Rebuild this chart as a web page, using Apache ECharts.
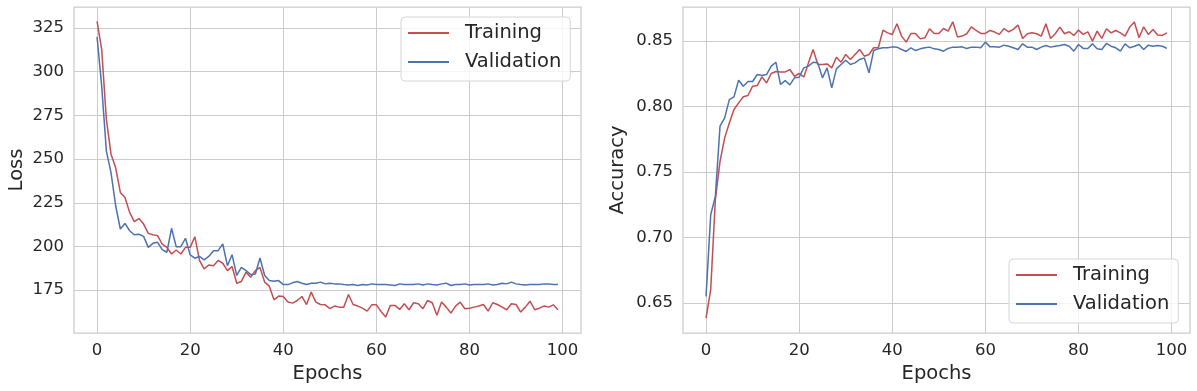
<!DOCTYPE html>
<html>
<head>
<meta charset="utf-8">
<script src="https://cdn.jsdelivr.net/npm/echarts@6/dist/echarts.min.js"></script>
<style>
  html, body { margin: 0; padding: 0; background: #fff; }
  #chart { width: 1197px; height: 391px; }
</style>
</head>
<body>
<div id="chart"></div>
<script>
// loss per epoch (left panel)
const trainLoss = [
  328.8, 312.6, 272.7, 252.8, 245.0, 230.9, 228.0, 219.5, 214.2, 216.0,
  212.8, 207.5, 206.7, 206.2, 201.4, 199.5, 195.7, 198.0, 195.7, 199.5,
  199.5, 205.6, 192.0, 187.2, 189.4, 189.0, 192.0, 190.4, 186.2, 188.5,
  179.0, 180.0, 185.3, 182.4, 186.2, 188.0, 179.6, 177.3, 169.5, 171.6,
  171.4, 168.2, 167.6, 169.1, 171.4, 166.8, 173.9, 168.2, 166.8, 166.6,
  164.4, 165.9, 165.3, 165.3, 172.5, 166.8, 165.9, 164.7, 163.0, 166.6,
  166.6, 162.8, 159.6, 166.3, 166.3, 164.0, 167.2, 163.8, 167.8, 167.2,
  164.4, 169.1, 167.8, 160.6, 168.2, 165.3, 161.9, 165.9, 168.2, 164.4,
  164.7, 165.3, 165.9, 166.8, 163.0, 167.8, 166.8, 165.3, 163.8, 167.2,
  166.8, 162.5, 165.3, 168.7, 163.8, 164.7, 165.9, 165.3, 166.6, 163.8
];
const valLoss = [
  319.9, 291.7, 254.7, 242.3, 223.3, 210.0, 213.2, 209.0, 206.7, 207.0,
  205.8, 199.5, 201.8, 202.4, 198.2, 196.7, 210.4, 199.9, 199.9, 204.7,
  195.2, 193.3, 194.3, 192.3, 194.3, 197.6, 197.6, 201.4, 189.0, 195.3,
  183.4, 188.1, 186.2, 183.9, 184.3, 193.4, 183.4, 180.5, 180.1, 180.5,
  178.2, 178.2, 179.2, 180.0, 179.0, 178.2, 179.0, 179.0, 179.6, 178.6,
  179.0, 178.6, 178.6, 178.2, 177.9, 178.2, 177.7, 178.2, 178.0, 178.6,
  178.2, 178.2, 178.2, 178.0, 177.7, 178.6, 178.2, 178.2, 178.2, 178.6,
  178.0, 178.6, 178.2, 178.0, 178.6, 179.0, 177.7, 178.2, 178.2, 178.6,
  178.0, 178.2, 178.2, 178.2, 178.6, 178.0, 178.2, 179.0, 178.6, 179.6,
  178.6, 178.2, 178.0, 178.2, 178.2, 178.2, 178.6, 178.6, 178.2, 178.2
];

// accuracy per epoch (right panel)
const trainAcc = [
  0.6385, 0.6602, 0.7289, 0.7581, 0.7760, 0.7874, 0.7976, 0.8027, 0.8073, 0.8083,
  0.8154, 0.8159, 0.8225, 0.8179, 0.8251, 0.8266, 0.8263, 0.8263, 0.8281, 0.8230,
  0.8251, 0.8225, 0.8332, 0.8434, 0.8319, 0.8319, 0.8324, 0.8294, 0.8375, 0.8337,
  0.8396, 0.8358, 0.8396, 0.8434, 0.8383, 0.8396, 0.8447, 0.8447, 0.8581, 0.8561,
  0.8548, 0.8630, 0.8536, 0.8490, 0.8556, 0.8556, 0.8515, 0.8523, 0.8592, 0.8556,
  0.8556, 0.8594, 0.8574, 0.8645, 0.8530, 0.8536, 0.8554, 0.8607, 0.8579, 0.8556,
  0.8556, 0.8579, 0.8567, 0.8549, 0.8594, 0.8569, 0.8587, 0.8620, 0.8518, 0.8554,
  0.8561, 0.8554, 0.8536, 0.8630, 0.8518, 0.8554, 0.8605, 0.8554, 0.8569, 0.8541,
  0.8582, 0.8549, 0.8569, 0.8498, 0.8574, 0.8518, 0.8592, 0.8561, 0.8579, 0.8561,
  0.8536, 0.8605, 0.8643, 0.8523, 0.8607, 0.8549, 0.8587, 0.8544, 0.8541, 0.8561
];
const valAcc = [
  0.6551, 0.7174, 0.7314, 0.7849, 0.7912, 0.8052, 0.8073, 0.8200, 0.8154, 0.8190,
  0.8190, 0.8243, 0.8235, 0.8243, 0.8307, 0.8337, 0.8167, 0.8197, 0.8164, 0.8218,
  0.8223, 0.8294, 0.8307, 0.8337, 0.8332, 0.8218, 0.8294, 0.8141, 0.8286, 0.8319,
  0.8352, 0.8319, 0.8332, 0.8358, 0.8370, 0.8256, 0.8426, 0.8439, 0.8447, 0.8447,
  0.8454, 0.8452, 0.8434, 0.8419, 0.8447, 0.8426, 0.8439, 0.8447, 0.8452, 0.8439,
  0.8434, 0.8421, 0.8442, 0.8452, 0.8452, 0.8454, 0.8442, 0.8452, 0.8452, 0.8447,
  0.8490, 0.8454, 0.8454, 0.8452, 0.8467, 0.8459, 0.8447, 0.8434, 0.8477, 0.8452,
  0.8452, 0.8434, 0.8452, 0.8465, 0.8452, 0.8459, 0.8465, 0.8472, 0.8459, 0.8421,
  0.8472, 0.8442, 0.8442, 0.8477, 0.8439, 0.8434, 0.8480, 0.8459, 0.8447, 0.8421,
  0.8477, 0.8447, 0.8459, 0.8472, 0.8434, 0.8467, 0.8459, 0.8465, 0.8459, 0.8442
];

const epochTicks = [0, 20, 40, 60, 80, 100];
const lossTicks = [175, 200, 225, 250, 275, 300, 325];
const accTicks = [0.65, 0.70, 0.75, 0.80, 0.85];

const font = 'DejaVu Sans';
const textColor = '#262626';
const gridColor = '#cccccc';
const red = '#c44e52';
const blue = '#4c72b0';

const pairs = arr => arr.map((v, i) => [i, v]);

const makeX = (gridIndex) => ({
  type: 'value',
  gridIndex,
  min: -4.95,
  max: 103.95,
  name: 'Epochs',
  nameLocation: 'middle',
  nameGap: 28,
  nameTextStyle: { fontFamily: font, fontSize: 19.5, color: textColor },
  axisLine: { show: false },
  axisTick: { show: false, customValues: epochTicks },
  axisLabel: { customValues: epochTicks, margin: 9, fontFamily: font, fontSize: 16.5, color: textColor },
  splitLine: { show: true, customValues: epochTicks, lineStyle: { color: gridColor, width: 1 } }
});

const makeY = (gridIndex, min, max, ticks, name, gap, fmt) => ({
  type: 'value',
  gridIndex,
  min, max,
  name,
  nameLocation: 'middle',
  nameGap: gap,
  nameTextStyle: { fontFamily: font, fontSize: 19.5, color: textColor },
  axisLine: { show: false },
  axisTick: { show: false, customValues: ticks },
  axisLabel: { customValues: ticks, margin: 10, fontFamily: font, fontSize: 16.5, color: textColor, formatter: fmt },
  splitLine: { show: true, customValues: ticks, lineStyle: { color: gridColor, width: 1 } }
});

const lineSeries = (name, data, color, idx) => ({
  name,
  type: 'line',
  xAxisIndex: idx,
  yAxisIndex: idx,
  data: pairs(data),
  showSymbol: false,
  symbol: 'none',
  lineStyle: { color, width: 1.5 },
  itemStyle: { color },
  animation: false
});

const legendStyle = (left, top) => ({
  orient: 'vertical',
  left, top,
  icon: 'rect',
  itemWidth: 41,
  itemHeight: 2,
  itemGap: 9,
  padding: [6, 9, 9, 7],
  backgroundColor: 'rgba(255,255,255,0.8)',
  borderColor: '#d6d6d6',
  borderWidth: 1,
  borderRadius: 4,
  textStyle: { fontFamily: font, fontSize: 19.5, color: textColor, padding: [0, 0, 0, 11] },
  data: ['Training', 'Validation']
});

const chart = echarts.init(document.getElementById('chart'), null, { renderer: 'canvas' });
chart.setOption({
  animation: false,
  backgroundColor: '#ffffff',
  grid: [
    { left: 74, top: 7, width: 507, height: 326, show: true, borderColor: gridColor, borderWidth: 1.25, backgroundColor: 'transparent' },
    { left: 683, top: 7, width: 507, height: 326, show: true, borderColor: gridColor, borderWidth: 1.25, backgroundColor: 'transparent' }
  ],
  xAxis: [makeX(0), makeX(1)],
  yAxis: [
    makeY(0, 150.5, 337, lossTicks, 'Loss', 47, v => String(v)),
    makeY(1, 0.6272, 0.8758, accTicks, 'Accuracy', 55, v => v.toFixed(2))
  ],
  legend: [legendStyle(401, 17), legendStyle(1009, 259)],
  series: [
    lineSeries('Training', trainLoss, red, 0),
    lineSeries('Validation', valLoss, blue, 0),
    lineSeries('Training', trainAcc, red, 1),
    lineSeries('Validation', valAcc, blue, 1)
  ]
});
</script>
</body>
</html>
